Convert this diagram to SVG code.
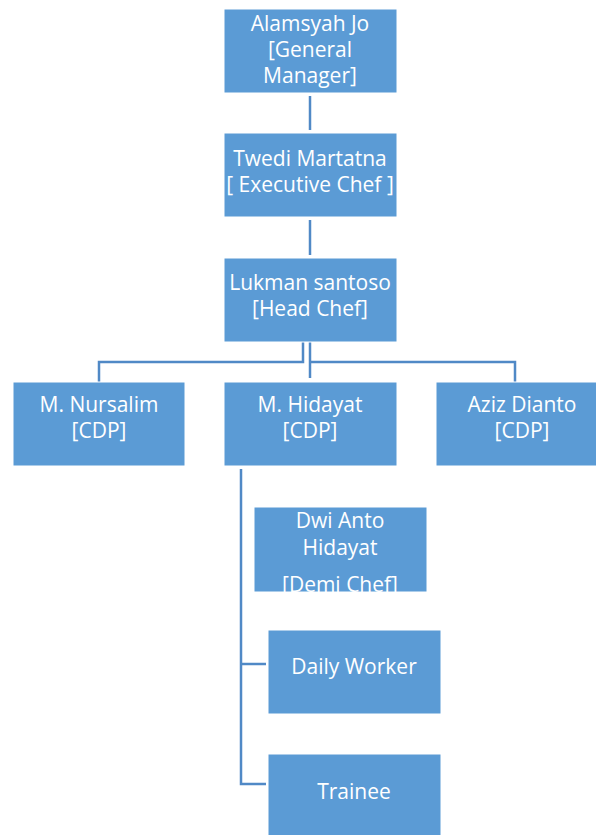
<svg xmlns="http://www.w3.org/2000/svg" width="596" height="835" viewBox="0 0 596 835">
<style>
.box{fill:#5B9BD5;stroke:#ffffff;stroke-width:1}
.t{font-family:"Open Sans","Liberation Sans",sans-serif;font-size:21px;fill:#ffffff;text-anchor:middle}
.c{fill:none;stroke:#5089C6;stroke-width:2.5}
</style>
<defs>
<clipPath id="dwiClip"><rect x="254" y="507" width="173" height="85"/></clipPath>
</defs>
<rect width="596" height="835" fill="#ffffff"/>
<g id="connectors">
<path class="c" d="M310,96 V130"/>
<path class="c" d="M310,220 V255"/>
<path class="c" d="M99,382 V362 H303 V342"/>
<path class="c" d="M310,342 V378"/>
<path class="c" d="M310,362 H515 V382"/>
<path class="c" d="M241,469 V784 H266"/>
<path class="c" d="M241,664 H266"/>
</g>
<g id="alamsyah">
<rect class="box" x="224" y="9" width="173" height="84"/>
<text class="t" x="310" y="31">Alamsyah Jo</text>
<text class="t" x="310" y="57">[General</text>
<text class="t" x="310" y="83">Manager]</text>
</g>
<g id="twedi">
<rect class="box" x="224" y="133" width="173" height="84"/>
<text class="t" x="310" y="166">Twedi Martatna</text>
<text class="t" x="310" y="192">[ Executive Chef ]</text>
</g>
<g id="lukman">
<rect class="box" x="224" y="258" width="173" height="84"/>
<text class="t" x="310" y="290">Lukman santoso</text>
<text class="t" x="310" y="316">[Head Chef]</text>
</g>
<g id="nursalim">
<rect class="box" x="13" y="382" width="172" height="84"/>
<text class="t" x="99" y="412">M. Nursalim</text>
<text class="t" x="99" y="438">[CDP]</text>
</g>
<g id="hidayat">
<rect class="box" x="224" y="382" width="173" height="84"/>
<text class="t" x="310" y="412">M. Hidayat</text>
<text class="t" x="310" y="438">[CDP]</text>
</g>
<g id="aziz">
<rect class="box" x="436" y="382" width="172" height="84"/>
<text class="t" x="522" y="412">Aziz Dianto</text>
<text class="t" x="522" y="438">[CDP]</text>
</g>
<g id="dwi">
<rect class="box" x="254" y="507" width="173" height="85"/>
<g clip-path="url(#dwiClip)">
<text class="t" x="340" y="528">Dwi Anto</text>
<text class="t" x="340" y="555">Hidayat</text>
<text class="t" x="340" y="592">[Demi Chef]</text>
</g>
</g>
<g id="daily">
<rect class="box" x="268" y="630" width="173" height="84"/>
<text class="t" x="354" y="674">Daily Worker</text>
</g>
<g id="trainee">
<rect class="box" x="268" y="754" width="173" height="84"/>
<text class="t" x="354" y="799">Trainee</text>
</g>
</svg>
